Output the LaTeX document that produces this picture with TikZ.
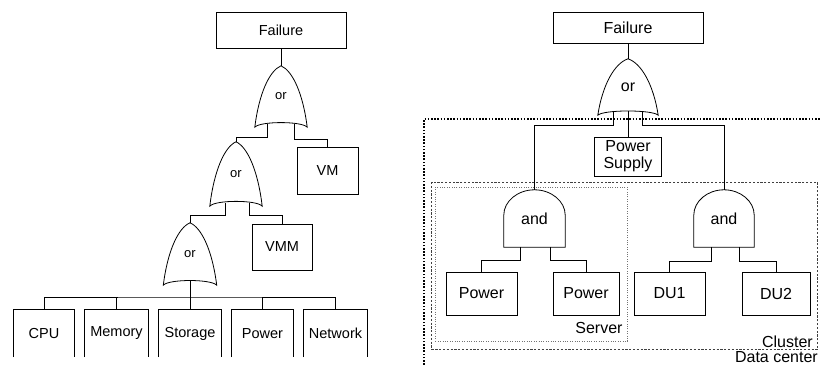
\documentclass[tikz,border=0pt]{standalone}
\usepackage{fontspec}
\setmainfont{Liberation Sans}
\usetikzlibrary{calc}

\tikzset{
  wire/.style={line width=0.8pt},
  box/.style={draw, line width=0.8pt, inner sep=0pt, align=center},
  ltxt/.style={font=\fontsize{14.5}{16}\selectfont},
  rtxt/.style={font=\fontsize{16}{17}\selectfont},
  gatenode/.style={inner sep=0pt},
  gateline/.style={line width=0.8pt},
  dcline/.style={line width=1.4pt, dash pattern=on 1.6pt off 1.6pt},
  clline/.style={line width=1pt, dash pattern=on 2.2pt off 1.6pt, black!75},
  svline/.style={line width=0.7pt, dash pattern=on 1pt off 1.4pt, black!55},
  openbox/.style={inner sep=0pt, minimum height=47pt},
  tag/.style={rtxt, inner sep=0pt, anchor=base east},
}

% OR gate outline drawn inside the bounding box of node #1
\newcommand\orgateoutline[1]{%
  \draw[gateline] let \p1=(#1.south west), \p2=(#1.north east) in
    (\x1,\y1)
    .. controls ({\x1+0.08*(\x2-\x1)},{\y1+0.55*(\y2-\y1)})
            and ({\x1+0.28*(\x2-\x1)},{\y2-0.08*(\y2-\y1)}) .. ({0.5*\x1+0.5*\x2},\y2)
    .. controls ({\x2-0.28*(\x2-\x1)},{\y2-0.08*(\y2-\y1)})
            and ({\x2-0.08*(\x2-\x1)},{\y1+0.55*(\y2-\y1)}) .. (\x2,\y1)
    .. controls ({\x2-0.1*(\x2-\x1)},{\y1+0.1*(\y2-\y1)})
            and ({\x1+0.1*(\x2-\x1)},{\y1+0.1*(\y2-\y1)}) .. cycle;}

% AND gate outline drawn inside the bounding box of node #1
\newcommand\andgateoutline[1]{%
  \draw[gateline] let \p1=(#1.south west), \p2=(#1.north east) in
    (\x1,\y1) -- (\x1,{\y1+0.56*(\y2-\y1)})
    .. controls (\x1,{\y1+0.8*(\y2-\y1)})
            and ({\x1+0.225*(\x2-\x1)},\y2) .. ({0.5*\x1+0.5*\x2},\y2)
    .. controls ({\x2-0.225*(\x2-\x1)},\y2)
            and (\x2,{\y1+0.8*(\y2-\y1)}) .. (\x2,{\y1+0.56*(\y2-\y1)})
    -- (\x2,\y1) -- cycle;}

% box with no bottom edge
\newcommand\openboxoutline[1]{%
  \draw[wire] (#1.south west) |- (#1.north east) -- (#1.south east);}

\begin{document}
\begin{tikzpicture}[x=1pt,y=-1pt]
\useasboundingbox (0,0) rectangle (820,366);

% ---------------- left tree ----------------
\node[box, ltxt, minimum width=130pt, minimum height=36pt] (fL) at (281,30) {Failure};
\node[gatenode, font=\fontsize{13}{14}\selectfont, minimum width=52pt, minimum height=61pt] (g1) at (281,96.5) {or};
\node[gatenode, font=\fontsize{13}{14}\selectfont, minimum width=52pt, minimum height=64pt] (g2) at (236,174) {or};
\node[gatenode, font=\fontsize{13}{14}\selectfont, minimum width=53pt, minimum height=62pt] (g3) at (190,254) {or};
\orgateoutline{g1}
\orgateoutline{g2}
\orgateoutline{g3}

\node[box, ltxt, minimum width=61pt, minimum height=47pt] (vm) at (327.5,170.5) {VM};
\node[box, ltxt, minimum width=60pt, minimum height=46pt] (vmm) at (282,247) {VMM};

\node[openbox, ltxt, minimum width=60pt] (cpu) at (44,333.5) {CPU};
\node[openbox, ltxt, minimum width=63pt] (mem) at (116.5,333.5) {Memory};
\node[openbox, ltxt, minimum width=62pt] (sto) at (190,333.5) {Storage};
\node[openbox, ltxt, minimum width=61pt] (pwr) at (262.5,333.5) {Power};
\node[openbox, ltxt, minimum width=63pt] (net) at (335.5,333.5) {Network};
\openboxoutline{cpu}
\openboxoutline{mem}
\openboxoutline{sto}
\openboxoutline{pwr}
\openboxoutline{net}

\draw[wire] (fL.south) -- (g1.north);
\draw[wire] ($(g1.south)+(-14,-3)$) -- ++(0,13) -| (g2.north);
\draw[wire] ($(g1.south)+(13,-3)$) -- ++(0,15) -| (vm.north);
\draw[wire] ($(g2.south)+(-11,-3)$) -- ++(0,12) -| (g3.north);
\draw[wire] ($(g2.south)+(13,-3)$) -- ++(0,12) -| (vmm.north);

\coordinate (bus) at (190,297);
\draw[wire] ($(g3.south)+(0,-4)$) -- (sto.north);
\draw[wire] (cpu.north) |- (bus) -| (net.north);
\draw[wire] (mem.north) -- (mem.north |- bus);
\draw[wire] (pwr.north) -- (pwr.north |- bus);

% ---------------- right tree ----------------
% containers
\draw[dcline] (424,368) -- (424,119) -- (822,119);
\node[tag] (dclabel) at (818,362.5) {Data center};
\node[draw, clline, minimum width=386pt, minimum height=167pt, anchor=north west, inner sep=0pt] (cluster) at (431,182) {};
\node[tag] (cllabel) at ($(cluster.south east)+(-5,-2)$) {Cluster};
\node[draw, svline, minimum width=192pt, minimum height=154pt, anchor=north west, inner sep=0pt] (server) at (435,187) {};
\node[tag] (svlabel) at ($(server.south east)+(-5,-8)$) {Server};

\node[box, rtxt, minimum width=150pt, minimum height=31pt] (fR) at (628,27.5) {Failure};
\node[gatenode, rtxt, minimum width=60pt, minimum height=56pt] (g4) at (628,87) {or};
\orgateoutline{g4}
\node[box, rtxt, fill=white, minimum width=67pt, minimum height=39pt] (ps) at (628,156.5) {Power\\Supply};

\node[gatenode, rtxt, minimum width=61pt, minimum height=57pt] (a1) at (534.5,218.5) {and};
\node[gatenode, rtxt, minimum width=60pt, minimum height=57pt] (a2) at (724,218.5) {and};
\andgateoutline{a1}
\andgateoutline{a2}

\node[box, rtxt, minimum width=71pt, minimum height=43pt] (pw1) at (481.5,293.5) {Power};
\node[box, rtxt, minimum width=66pt, minimum height=43pt] (pw2) at (586,293.5) {Power};
\node[box, rtxt, minimum width=71pt, minimum height=43pt] (du1) at (669.5,293.5) {DU1};
\node[box, rtxt, minimum width=68pt, minimum height=43pt] (du2) at (776,293.5) {DU2};

\draw[wire] (fR.south) -- (g4.north);
\draw[wire] ($(g4.south)+(-15,-3)$) -- ++(0,13) -| (a1.north);
\draw[wire] ($(g4.south)+(14,-3)$) -- ++(0,13) -| (a2.north);
\draw[wire] ($(g4.south)+(0,-4)$) -- (ps.north);

\draw[wire] ($(a1.south)+(-14,0)$) -- ++(0,13) -| (pw1.north);
\draw[wire] ($(a1.south)+(16,0)$) -- ++(0,13) -| (pw2.north);
\draw[wire] ($(a2.south)+(-13,0)$) -- ++(0,14) -| (du1.north);
\draw[wire] ($(a2.south)+(15,0)$) -- ++(0,14) -| (du2.north);
\end{tikzpicture}
\end{document}
